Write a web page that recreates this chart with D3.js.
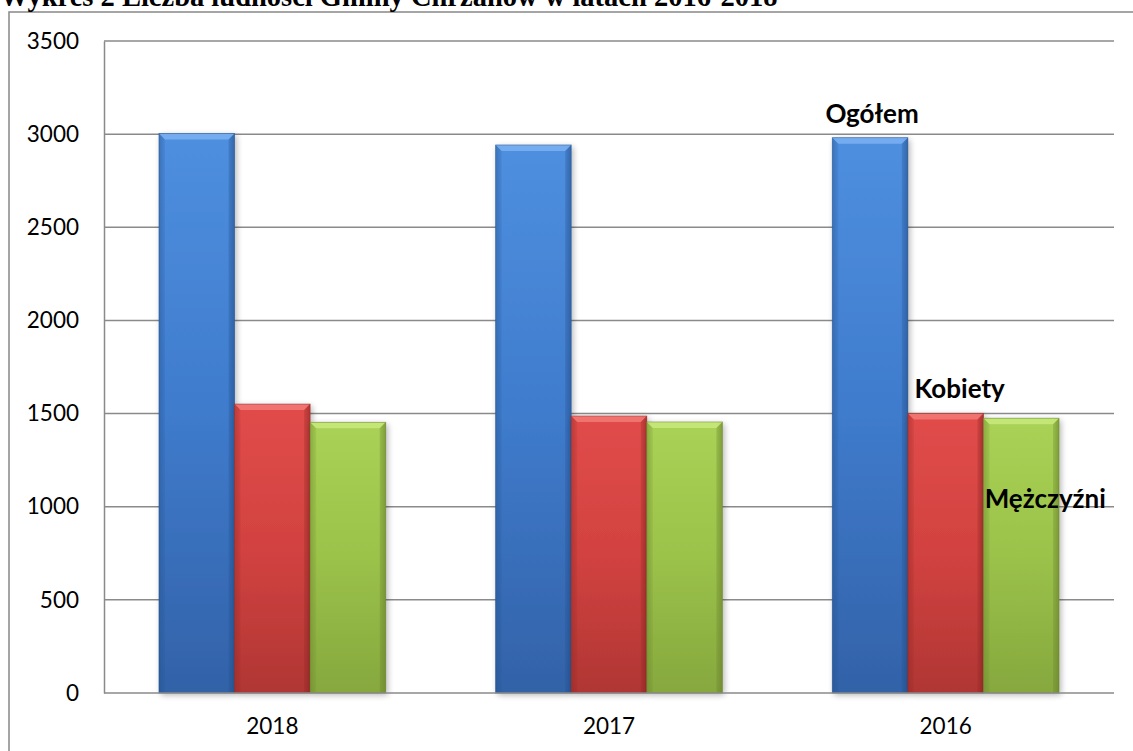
<!DOCTYPE html>
<html><head><meta charset="utf-8">
<script src="https://cdn.jsdelivr.net/npm/d3@7"></script>
<style>body{margin:0;background:#fff;}svg{display:block;}</style>
</head><body>
<script>
const title = "Wykres 2 Liczba ludności Gminy Chrzanów w latach 2016-2018";
const years = ["2018", "2017", "2016"];
const seriesNames = ["Ogółem", "Kobiety", "Mężczyźni"];
const ogolem = [3004, 2942, 2981];
const kobiety = [1551, 1487, 1501];
const mezczyzni = [1453, 1455, 1475];
const yTicks = [0, 500, 1000, 1500, 2000, 2500, 3000, 3500];

const W = 1133, H = 751;
const svg = d3.select("body").append("svg").attr("width", W).attr("height", H);
const defs = svg.append("defs");

const palettes = [
  {top:"#4f8fdf", mid:"#3f7bcc", bot:"#3262a8", light:"#7ab2f2", dark:"#24508c"},
  {top:"#e14c4a", mid:"#d24240", bot:"#b03634", light:"#f27a77", dark:"#8f2624"},
  {top:"#a9d255", mid:"#9bc24a", bot:"#86a83e", light:"#c8ea7c", dark:"#677f2c"}
];
palettes.forEach((p,i)=>{
  const g = defs.append("linearGradient").attr("id","grad"+i).attr("x1",0).attr("y1",0).attr("x2",0).attr("y2",1);
  g.append("stop").attr("offset","0%").attr("stop-color",p.top);
  g.append("stop").attr("offset","50%").attr("stop-color",p.mid);
  g.append("stop").attr("offset","100%").attr("stop-color",p.bot);
  const h = defs.append("linearGradient").attr("id","hgrad"+i).attr("x1",0).attr("y1",0).attr("x2",1).attr("y2",0);
  h.append("stop").attr("offset","0%").attr("stop-color",p.dark).attr("stop-opacity",0.35);
  h.append("stop").attr("offset","8%").attr("stop-color",p.dark).attr("stop-opacity",0.0);
  h.append("stop").attr("offset","92%").attr("stop-color",p.dark).attr("stop-opacity",0.0);
  h.append("stop").attr("offset","100%").attr("stop-color",p.dark).attr("stop-opacity",0.5);
});
const shadow = defs.append("filter").attr("id","shadow").attr("x","-20%").attr("y","-5%").attr("width","140%").attr("height","115%");
shadow.append("feGaussianBlur").attr("in","SourceAlpha").attr("stdDeviation",3);
shadow.append("feOffset").attr("dx",2).attr("dy",2).attr("result","b");
shadow.append("feComponentTransfer").append("feFuncA").attr("type","linear").attr("slope",0.3);
const mg = shadow.append("feMerge"); mg.append("feMergeNode"); mg.append("feMergeNode").attr("in","SourceGraphic");

// frame
svg.append("rect").attr("x",9).attr("y",12).attr("width",W+20).attr("height",H+20)
  .attr("fill","none").attr("stroke","#888").attr("stroke-width",1.5);

// title (partly cut at the top edge, as in the reference)
svg.append("text").attr("x",0).attr("y",6).attr("font-family","'Liberation Serif', 'Times New Roman', serif")
  .attr("font-weight","bold").attr("font-size",28.5).attr("fill","#000").text(title);

const plot = {left:104, right:1114, top:41, bottom:693};
const x0 = d3.scaleBand().domain(years).range([plot.left, plot.right]).paddingInner(0).paddingOuter(0);
const x1 = d3.scaleBand().domain(seriesNames).range([0, x0.bandwidth()]).paddingInner(0).paddingOuter(0.727);
const y = d3.scaleLinear().domain([0,3500]).range([plot.bottom, plot.top]);

const font = "Lato, 'Open Sans', sans-serif";

// gridlines
svg.append("g").selectAll("line").data(yTicks.filter(d=>d>0)).join("line")
  .attr("x1",plot.left).attr("x2",plot.right).attr("y1",d=>y(d)).attr("y2",d=>y(d))
  .attr("stroke","#8a8a8a").attr("stroke-width",1.5);

// y axis
const yAxis = svg.append("g").attr("transform",`translate(${plot.left},0)`)
  .call(d3.axisLeft(y).tickValues(yTicks).tickSize(0).tickPadding(25).tickFormat(d3.format("d")));
yAxis.select(".domain").attr("stroke","#8a8a8a").attr("stroke-width",1.5);
yAxis.selectAll("text").attr("font-family",font).attr("font-size",22.5).attr("fill","#000");

const series = [ogolem, kobiety, mezczyzni];
const barsG = svg.append("g");
years.forEach((yr, yi)=>{
  series.forEach((vals, si)=>{
    const bx = x0(yr) + x1(seriesNames[si]);
    const bw = x1.bandwidth();
    const by = y(vals[yi]);
    const bh = plot.bottom - by;
    const p = palettes[si];
    const g = barsG.append("g");
    g.append("rect").attr("x",bx).attr("y",by).attr("width",bw).attr("height",bh)
      .attr("fill",`url(#grad${si})`).attr("filter","url(#shadow)");
    g.append("rect").attr("x",bx).attr("y",by).attr("width",bw).attr("height",bh)
      .attr("fill",`url(#hgrad${si})`);
    const bev = 6;
    g.append("path").attr("d",`M${bx},${by} L${bx+bw},${by} L${bx+bw-bev},${by+bev} L${bx+bev},${by+bev} Z`)
      .attr("fill",p.light).attr("opacity",0.85);
    g.append("path").attr("d",`M${bx},${by} L${bx+bev},${by+bev} L${bx+bev},${by+bh} L${bx},${by+bh} Z`)
      .attr("fill",p.dark).attr("opacity",0.12);
    g.append("path").attr("d",`M${bx+bw},${by} L${bx+bw-bev},${by+bev} L${bx+bw-bev},${by+bh} L${bx+bw},${by+bh} Z`)
      .attr("fill",p.dark).attr("opacity",0.25);
    g.append("rect").attr("x",bx).attr("y",by).attr("width",bw).attr("height",bh)
      .attr("fill","none").attr("stroke",p.dark).attr("stroke-width",0.8).attr("stroke-opacity",0.6);
  });
});

// x axis line
svg.append("line").attr("x1",plot.left).attr("x2",plot.right).attr("y1",plot.bottom).attr("y2",plot.bottom)
  .attr("stroke","#8a8a8a").attr("stroke-width",1.5);
const xAxis = svg.append("g").attr("transform",`translate(0,${plot.bottom})`)
  .call(d3.axisBottom(x0).tickSize(0).tickPadding(25));
xAxis.select(".domain").remove();
xAxis.selectAll("text").attr("font-family",font).attr("font-size",22.5).attr("fill","#000");

// series labels near last category
const last = years.length-1;
const lbl = [
  {si:0, dx:2, y: y(ogolem[last]) - 15},
  {si:1, dx:14, y: y(kobiety[last]) - 15},
  {si:2, dx:24, y: y(1000) + 1}
];
lbl.forEach(l=>{
  const cx = x0(years[last]) + x1(seriesNames[l.si]) + x1.bandwidth()/2 + l.dx;
  svg.append("text").attr("x",cx).attr("y",l.y).attr("text-anchor","middle")
    .attr("font-family",font).attr("font-weight","bold").attr("font-size",26).attr("fill","#000")
    .text(seriesNames[l.si]);
});
</script>
</body></html>
